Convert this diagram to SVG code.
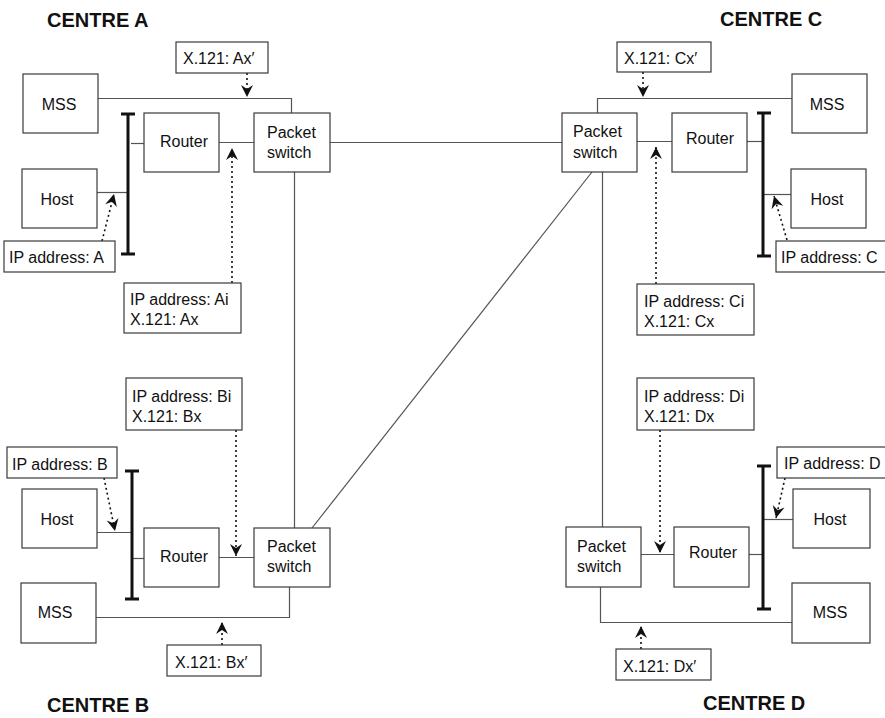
<svg xmlns="http://www.w3.org/2000/svg" width="885" height="718" viewBox="0 0 885 718">
<style>
.box{fill:#fff;stroke:#3a3a3a;stroke-width:1.2}
.ln{fill:none;stroke:#555;stroke-width:1.2}
.bus{fill:none;stroke:#111;stroke-width:3}
.arr{fill:none;stroke:#111;stroke-width:1.6;stroke-dasharray:2 3;marker-end:url(#ah)}
text{font-family:"Liberation Sans",Arial,sans-serif;font-size:16px;fill:#111}
.c{text-anchor:middle}
.title{font-weight:bold;font-size:20px}
</style>
<defs>
<marker id="ah" markerUnits="userSpaceOnUse" markerWidth="16" markerHeight="16" viewBox="-14 -8 16 16" refX="0" refY="0" orient="auto">
<path d="M0,0 L-12,-6 L-8,0 L-12,6 Z" fill="#111" stroke="none"/>
</marker>
</defs>
<rect width="885" height="718" fill="#fff"/>

<g id="titles">
<text class="title" x="47" y="27">CENTRE A</text>
<text class="title" x="720" y="26">CENTRE C</text>
<text class="title" x="47" y="712">CENTRE B</text>
<text class="title" x="703" y="710">CENTRE D</text>
</g>

<g id="connectors">
<!-- Centre A -->
<path class="ln" d="M98,98.5 H291.5 V113"/>
<path class="ln" d="M219,142.5 H254"/>
<path class="ln" d="M131,143.5 H144"/>
<path class="ln" d="M97,192.5 H128"/>
<!-- inter-centre -->
<path class="ln" d="M330,142.5 H562"/>
<path class="ln" d="M294.5,172 V528"/>
<path class="ln" d="M602.5,172 V527"/>
<path class="ln" d="M592,172 L312,528"/>
<!-- Centre C -->
<path class="ln" d="M792,98.5 H597.5 V113"/>
<path class="ln" d="M637,141.5 H672"/>
<path class="ln" d="M747,141.5 H763"/>
<path class="ln" d="M763,194.5 H791"/>
<!-- Centre B -->
<path class="ln" d="M97,532.5 H131"/>
<path class="ln" d="M132,558.5 H144"/>
<path class="ln" d="M219,557.5 H254"/>
<path class="ln" d="M96,617.5 H289.5 V587"/>
<!-- Centre D -->
<path class="ln" d="M641,554.5 H674"/>
<path class="ln" d="M749,554.5 H763"/>
<path class="ln" d="M763,519.5 H793"/>
<path class="ln" d="M792,622.5 H600.5 V587"/>
<!-- buses -->
<path class="bus" d="M128,114 V254 M121,114 H135 M121,254 H135"/>
<path class="bus" d="M763,113 V256 M757,113 H771 M757,256 H771"/>
<path class="bus" d="M132,471 V599 M125,471 H139 M125,599 H139"/>
<path class="bus" d="M763,466 V609 M757,466 H771 M757,609 H771"/>
<!-- dotted annotation arrows -->
<path class="arr" d="M247,73 V97"/>
<path class="arr" d="M232,283 V148"/>
<path class="arr" d="M102,241 L114,194"/>
<path class="arr" d="M643,72 V97"/>
<path class="arr" d="M656,284 V147"/>
<path class="arr" d="M787,240 L774,196"/>
<path class="arr" d="M236,430 V556"/>
<path class="arr" d="M104,478 L115,531"/>
<path class="arr" d="M222,645 V622"/>
<path class="arr" d="M660,430 V553"/>
<path class="arr" d="M785,478 L776,518"/>
<path class="arr" d="M641,649 V626"/>
</g>

<!-- Centre A nodes -->
<g id="mss-a"><rect class="box" x="23" y="74" width="75" height="59"/><text class="c" x="59" y="110">MSS</text></g>
<g id="router-a"><rect class="box" x="144" y="113" width="75" height="59"/><text class="c" x="184" y="147">Router</text></g>
<g id="ps-a"><rect class="box" x="254" y="113" width="76" height="59"/><text x="267" y="138">Packet</text><text x="267" y="158">switch</text></g>
<g id="host-a"><rect class="box" x="22" y="169" width="75" height="59"/><text class="c" x="57" y="205">Host</text></g>
<g id="lbl-axp"><rect class="box" x="176" y="42" width="92" height="31"/><text x="183" y="64">X.121: Ax′</text></g>
<g id="lbl-ipa"><rect class="box" x="4" y="241" width="111" height="31"/><text x="9" y="263">IP address: A</text></g>
<g id="lbl-ai"><rect class="box" x="124" y="283" width="117" height="50"/><text x="130" y="305">IP address: Ai</text><text x="130" y="325">X.121: Ax</text></g>

<!-- Centre C nodes -->
<g id="mss-c"><rect class="box" x="792" y="74" width="75" height="59"/><text class="c" x="827" y="110">MSS</text></g>
<g id="ps-c"><rect class="box" x="562" y="113" width="75" height="59"/><text x="573" y="137">Packet</text><text x="573" y="158">switch</text></g>
<g id="router-c"><rect class="box" x="672" y="113" width="75" height="59"/><text class="c" x="710" y="144">Router</text></g>
<g id="host-c"><rect class="box" x="791" y="169" width="75" height="59"/><text class="c" x="827" y="205">Host</text></g>
<g id="lbl-cxp"><rect class="box" x="617" y="42" width="94" height="30"/><text x="624" y="64">X.121: Cx′</text></g>
<g id="lbl-ipc"><rect class="box" x="776" y="241" width="110" height="31"/><text x="781" y="263">IP address: C</text></g>
<g id="lbl-ci"><rect class="box" x="637" y="284" width="117" height="51"/><text x="644" y="307">IP address: Ci</text><text x="644" y="327">X.121: Cx</text></g>

<!-- Centre B nodes -->
<g id="lbl-bi"><rect class="box" x="126" y="378" width="116" height="52"/><text x="132" y="402">IP address: Bi</text><text x="132" y="422">X.121: Bx</text></g>
<g id="lbl-ipb"><rect class="box" x="7" y="447" width="110" height="31"/><text x="12" y="470">IP address: B</text></g>
<g id="host-b"><rect class="box" x="22" y="489" width="75" height="59"/><text class="c" x="57" y="525">Host</text></g>
<g id="router-b"><rect class="box" x="144" y="528" width="75" height="59"/><text class="c" x="184" y="562">Router</text></g>
<g id="ps-b"><rect class="box" x="254" y="528" width="76" height="59"/><text x="267" y="552">Packet</text><text x="267" y="572">switch</text></g>
<g id="mss-b"><rect class="box" x="21" y="583" width="75" height="60"/><text class="c" x="55" y="618">MSS</text></g>
<g id="lbl-bxp"><rect class="box" x="167" y="645" width="94" height="31"/><text x="175" y="668">X.121: Bx′</text></g>

<!-- Centre D nodes -->
<g id="lbl-di"><rect class="box" x="637" y="378" width="117" height="52"/><text x="644" y="402">IP address: Di</text><text x="644" y="422">X.121: Dx</text></g>
<g id="lbl-ipd"><rect class="box" x="777" y="447" width="110" height="31"/><text x="784" y="469">IP address: D</text></g>
<g id="host-d"><rect class="box" x="793" y="489" width="77" height="59"/><text class="c" x="830" y="525">Host</text></g>
<g id="ps-d"><rect class="box" x="566" y="527" width="75" height="60"/><text x="577" y="552">Packet</text><text x="577" y="572">switch</text></g>
<g id="router-d"><rect class="box" x="674" y="527" width="75" height="60"/><text class="c" x="713" y="558">Router</text></g>
<g id="mss-d"><rect class="box" x="792" y="583" width="78" height="60"/><text class="c" x="830" y="618">MSS</text></g>
<g id="lbl-dxp"><rect class="box" x="616" y="649" width="95" height="31"/><text x="623" y="672">X.121: Dx′</text></g>
</svg>
